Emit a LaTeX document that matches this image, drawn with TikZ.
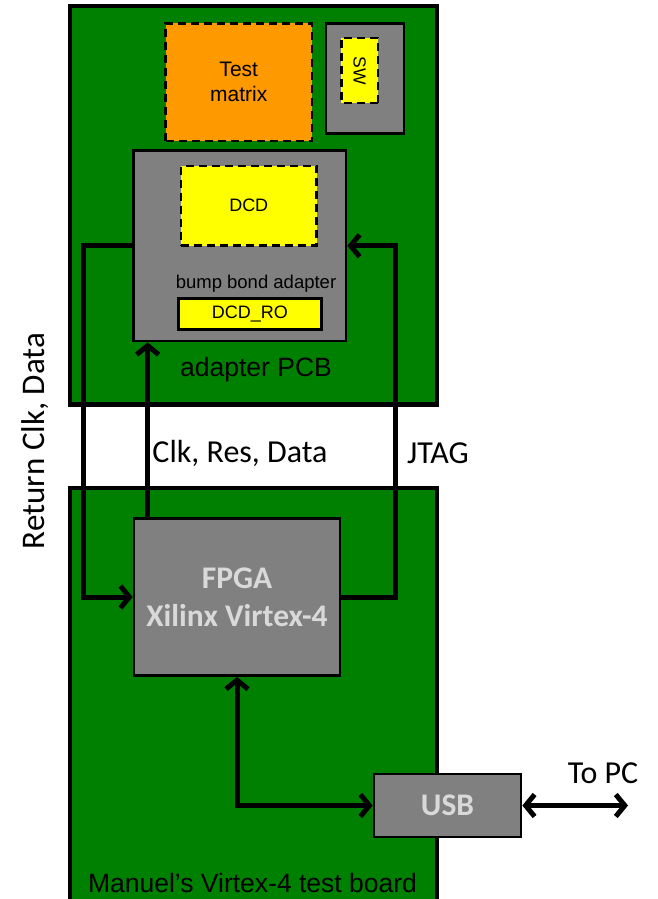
\documentclass[tikz,border=0pt]{standalone}
\usepackage{fontspec}
\setmainfont{Liberation Sans}
\newfontfamily\carlito{Carlito}
\usetikzlibrary{arrows.meta}
\definecolor{pcbgreen}{RGB}{0,128,0}
\definecolor{chipgray}{RGB}{128,128,128}
\definecolor{testorange}{RGB}{255,153,0}
\definecolor{dcdyellow}{RGB}{255,255,0}
\begin{document}
\begin{tikzpicture}[x=1pt,y=-1pt,>={Straight Barb[length=9pt,width=22pt]},
	board/.style={draw,line width=4.5pt,fill=pcbgreen,inner sep=0pt},
	chip/.style={draw,line width=2.7pt,fill=chipgray,inner sep=0pt},
	sensor/.style={draw,line width=2.7pt,dash pattern=on 8pt off 5pt,fill=dcdyellow,inner sep=0pt},
	wire/.style={line width=5pt},
	sig/.style={font=\carlito\fontsize{32}{38}\selectfont,inner sep=0pt},
	chiptext/.style={text=gray!30,align=center,font=\carlito\bfseries\fontsize{31.5}{38}\selectfont}]
	\useasboundingbox (0,0) rectangle (658,899);
	% boards
	\node[board,minimum width=367pt,minimum height=398.5pt] (pcb) at (253.5,205.25) {};
	\node[board,minimum width=367pt,minimum height=415pt] (vbrd) at (253.5,695.5) {};
	% adapter PCB
	\node[draw,line width=2.7pt,dash pattern=on 8pt off 5pt,fill=testorange,minimum width=146.5pt,minimum height=117.5pt,align=center,font=\fontsize{21}{25}\selectfont] (tm) at (238.75,82.25) {Test\\matrix};
	\node[chip,minimum width=78pt,minimum height=110pt] (swbox) at (365,78.5) {};
	\node[sensor,rotate=-90,minimum width=65pt,minimum height=36.7pt,font=\fontsize{17.5}{20}\selectfont] (sw) at (359.7,70.5) {SW};
	\node[chip,minimum width=212.5pt,minimum height=190.5pt] (bba) at (239.75,245.75) {};
	\node[sensor,minimum width=135.5pt,minimum height=79.5pt,font=\fontsize{18}{22}\selectfont] (dcd) at (248.75,205.75) {DCD};
	\node[font=\fontsize{18.5}{22}\selectfont,inner sep=0pt] (bbatext) at (256,284) {bump bond adapter};
	\node[draw,line width=2.7pt,fill=dcdyellow,minimum width=143pt,minimum height=31pt,inner sep=0pt,font=\fontsize{18}{22}\selectfont] (ro) at (250,314) {DCD\_RO};
	\node[font=\fontsize{26.5}{30}\selectfont,inner sep=0pt] (pcbtext) at (256,370) {adapter PCB};
	% test board
	\node[chip,chiptext,minimum width=206pt,minimum height=157pt] (fpga) at (237,597) {FPGA\\Xilinx Virtex-4};
	\node[chip,chiptext,minimum width=147pt,minimum height=63pt] (usb) at (447.5,805.5) {USB};
	\node[font=\fontsize{26.5}{30}\selectfont,inner sep=0pt] (brdtext) at (252.5,883) {Manuel’s Virtex-4 test board};
	\coordinate (pc) at (628,805.5);
	% wires
	\draw[wire,->] (bba.west) -- ++(-49,0) |- (fpga.west);
	\draw[wire,->] ([xshift=15pt]fpga.north west) -- ([xshift=15.5pt]bba.south west);
	\draw[wire,->] (fpga.east) -- ++(54,0) |- (bba.east);
	\draw[wire,<->] (fpga.south) |- (usb.west);
	\draw[wire,<->] (usb.east) -- (pc);
	% signal labels
	\node[sig] (clk) at (240,453) {Clk, Res, Data};
	\node[sig] (jtag) at (438,453) {JTAG};
	\node[sig] (topc) at (603,773) {To PC};
	\node[sig,rotate=90,font=\carlito\fontsize{33}{38}\selectfont] (ret) at (35,441) {Return Clk, Data};
\end{tikzpicture}
\end{document}
